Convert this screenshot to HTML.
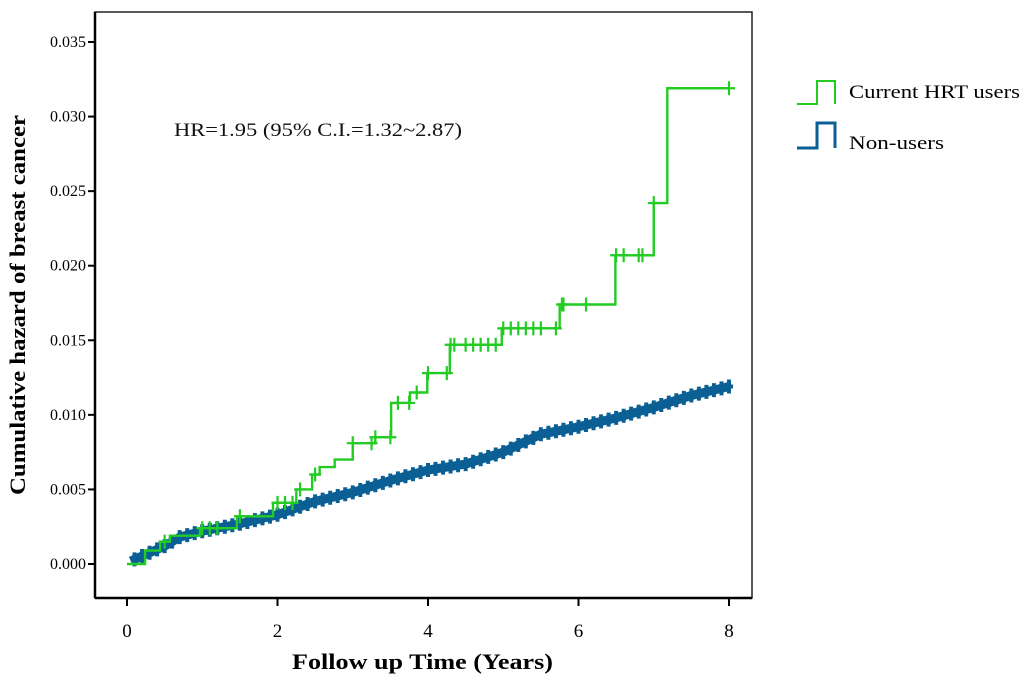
<!DOCTYPE html>
<html><head><meta charset="utf-8"><style>
body{margin:0;background:#fff;}
svg{display:block;font-family:"Liberation Serif",serif;}
</style></head><body>
<svg id="chart" width="1024" height="681" viewBox="0 0 1024 681">
<rect x="95" y="12" width="657" height="586" fill="#fff" stroke="#222" stroke-width="1.5"/>
<line x1="95" y1="12" x2="95" y2="598" stroke="#000" stroke-width="2.5"/>
<line x1="95" y1="598" x2="752" y2="598" stroke="#000" stroke-width="2.5"/>
<g id="yticks"></g><g id="xticks"></g>
<g id="series"></g>
<text x="174" y="136" font-size="19" fill="#111" textLength="288" lengthAdjust="spacingAndGlyphs">HR=1.95 (95% C.I.=1.32~2.87)</text>
<text x="292" y="669" font-size="22" font-weight="bold" textLength="261" lengthAdjust="spacingAndGlyphs">Follow up Time (Years)</text>
<text transform="translate(25,305) rotate(-90)" font-size="22" font-weight="bold" text-anchor="middle" textLength="380" lengthAdjust="spacingAndGlyphs">Cumulative hazard of breast cancer</text>
<g>
<path d="M797 104 H817 V81 H835 V104" fill="none" stroke="#22cc22" stroke-width="2"/>
<text x="849" y="98" font-size="19" textLength="171" lengthAdjust="spacingAndGlyphs">Current HRT users</text>
<path d="M797 148 H817 V123 H835 V148" fill="none" stroke="#0a5f94" stroke-width="3"/>
<text x="849" y="149" font-size="19" textLength="95" lengthAdjust="spacingAndGlyphs">Non-users</text>
</g>
</svg>
<script>
const yTicks=[0,0.005,0.01,0.015,0.02,0.025,0.03,0.035];
const yTickLabels=["0.000","0.005","0.010","0.015","0.020","0.025","0.030","0.035"];
const xTicks=[0,2,4,6,8];
const hrtTimes=[0,0.24,0.44,0.57,0.97,1.46,1.94,2.25,2.46,2.56,2.76,3.0,3.3,3.51,3.76,3.99,4.29,4.98,5.75,6.49,7.0,7.18];
const hrtValues=[0,0.0009,0.0015,0.0019,0.0024,0.0032,0.0041,0.005,0.006,0.0065,0.007,0.0081,0.0085,0.0108,0.0115,0.0128,0.0147,0.0158,0.0174,0.0207,0.0242,0.0319];
const hrtEnd=8.0;
const hrtCensor=[0.5,1.0,1.1,1.2,1.5,2.0,2.1,2.2,2.3,2.5,3.0,3.25,3.3,3.5,3.6,3.75,3.85,4.0,4.25,4.3,4.35,4.5,4.6,4.7,4.8,4.9,5.0,5.1,5.2,5.3,5.4,5.5,5.7,5.78,5.8,6.1,6.5,6.6,6.8,6.85,7.0,8.0];
const nonTimes=[0.05,0.5,0.7,1.0,1.5,2.0,2.5,3.0,3.5,4.0,4.5,5.0,5.5,6.0,6.5,7.0,7.5,8.0];
const nonValues=[0.0002,0.0012,0.0018,0.0022,0.0027,0.0033,0.0042,0.0048,0.0056,0.0063,0.0067,0.0075,0.0087,0.0092,0.0098,0.0105,0.0113,0.0119];
const NS="http://www.w3.org/2000/svg";
const xs=t=>127+t*75.25, ys=v=>564-v/0.005*74.57;
function mk(tag,attrs,parent){const e=document.createElementNS(NS,tag);for(const k in attrs)e.setAttribute(k,attrs[k]);parent.appendChild(e);return e;}
const yg=document.getElementById('yticks');
yTicks.forEach((v,i)=>{
 const l=mk('line',{x1:88,x2:95,y1:ys(v),y2:ys(v),stroke:'#000','stroke-width':2},yg);
 
 
 const t=mk('text',{x:86,y:ys(v)+5,'font-size':16,'text-anchor':'end'},yg);
 t.textContent=yTickLabels[i];
 
 
});
const xg=document.getElementById('xticks');
xTicks.forEach(v=>{
 const l=mk('line',{x1:xs(v),x2:xs(v),y1:598,y2:606,stroke:'#000','stroke-width':2},xg);
 
 
 const t=mk('text',{x:xs(v),y:637,'font-size':19,'text-anchor':'middle'},xg);
 t.textContent=String(v);
 
 
});
const sg=document.getElementById('series');
let d='';
nonTimes.forEach((t,i)=>{d+=(i?'L':'M')+xs(t)+' '+ys(nonValues[i]);});
const nl=mk('path',{d:d,fill:'none',stroke:'#0a5f94','stroke-width':9,'stroke-linejoin':'round'},sg);


function interpNon(t){for(let i=1;i<nonTimes.length;i++){if(t<=nonTimes[i]){const f=(t-nonTimes[i-1])/(nonTimes[i]-nonTimes[i-1]);return nonValues[i-1]+f*(nonValues[i]-nonValues[i-1]);}}return nonValues[nonValues.length-1];}
for(let t=0.1;t<=8;t+=0.1){
 const m=mk('path',{d:`M${xs(t)-4} ${ys(interpNon(t))}h8M${xs(t)} ${ys(interpNon(t))-7}v14`,stroke:'#0a5f94','stroke-width':4},sg);
 
 
}
let g='M'+xs(hrtTimes[0])+' '+ys(hrtValues[0]);
for(let i=1;i<hrtTimes.length;i++){g+='H'+xs(hrtTimes[i])+'V'+ys(hrtValues[i]);}
g+='H'+xs(hrtEnd);
const gl=mk('path',{d:g,fill:'none',stroke:'#22cc22','stroke-width':2.4},sg);


function stepVal(t){let v=0;for(let i=0;i<hrtTimes.length;i++){if(hrtTimes[i]<=t)v=hrtValues[i];}return v;}
hrtCensor.forEach(t=>{
 const x=xs(t),y=ys(stepVal(t));
 const m=mk('path',{d:`M${x-6} ${y}h12M${x} ${y-7}v14`,stroke:'#22cc22','stroke-width':2.2},sg);
 
 
});
</script>
</body></html>
